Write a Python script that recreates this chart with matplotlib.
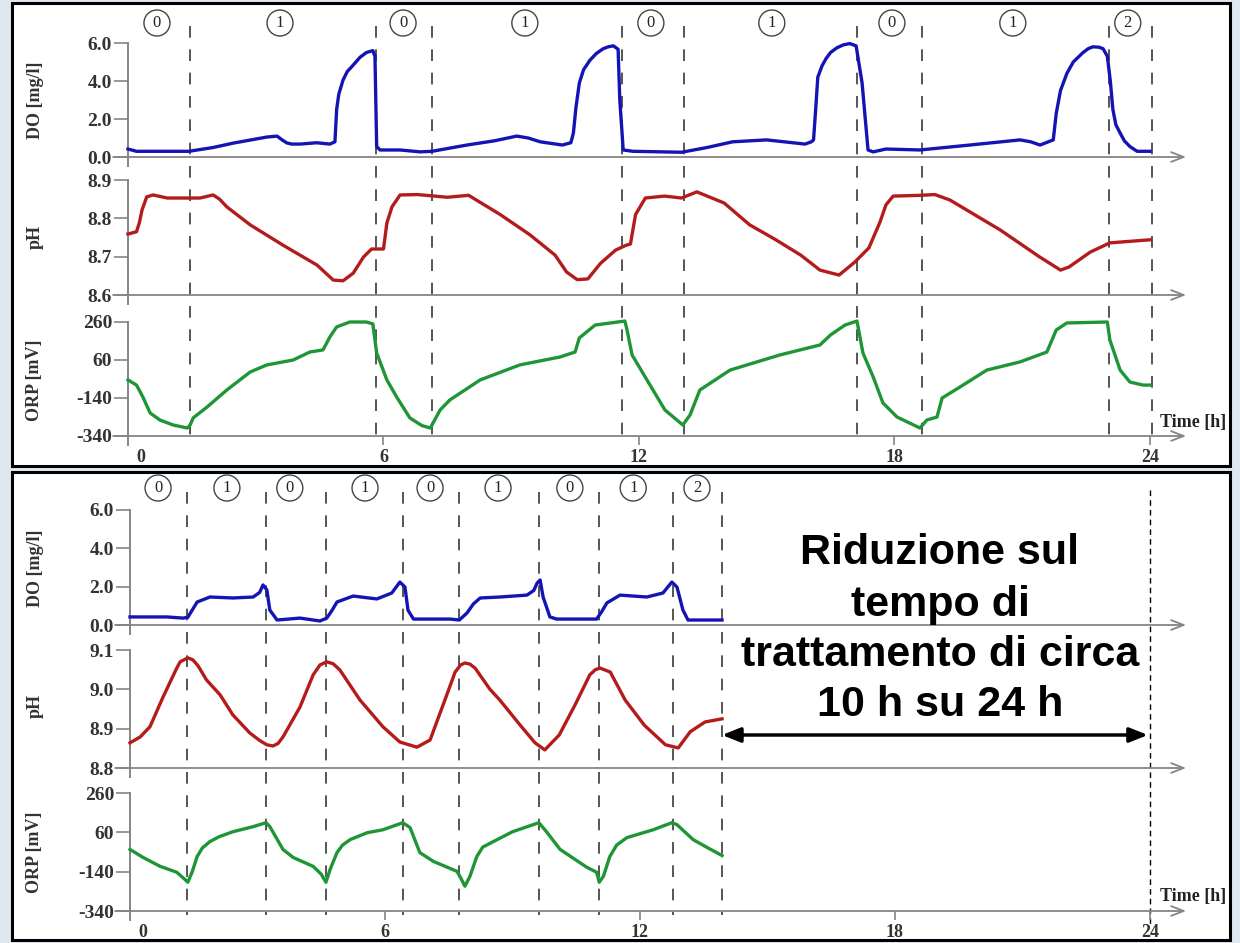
import matplotlib
matplotlib.use('Agg')
import matplotlib.pyplot as plt
from matplotlib.patches import Rectangle

# ---- data (hours, values) ----
# upper run: 24 h cycle
do_top_t = [0.0, 0.2, 1.43, 2.0, 2.47, 3.26, 3.5, 3.62, 3.73, 3.85, 4.04, 4.43, 4.74, 4.86, 4.9, 4.95, 5.05, 5.15,
            5.29, 5.45, 5.6, 5.75, 5.8, 5.84, 5.92,
            6.39, 6.86, 7.14, 7.96, 8.6, 9.13, 9.4, 9.68, 10.2, 10.4, 10.46, 10.52, 10.6, 10.7, 10.85, 11.0, 11.16,
            11.28, 11.4, 11.51, 11.55, 11.63, 11.86,
            13.0, 13.6, 14.2, 15.0, 15.9, 16.05, 16.1, 16.15, 16.2, 16.3, 16.4, 16.5, 16.65, 16.8, 16.95, 17.1,
            17.24, 17.38, 17.5, 17.8,
            18.6, 19.77, 20.95, 21.2, 21.42, 21.73, 21.8, 21.9, 22.05, 22.2, 22.43, 22.55, 22.66, 22.8, 22.9, 23.0,
            23.07, 23.13, 23.2, 23.3, 23.4, 23.53, 23.7, 24.0]
do_top_v = [0.42, 0.3, 0.3, 0.5, 0.73, 1.05, 1.1, 0.9, 0.74, 0.68, 0.68, 0.75, 0.68, 0.8, 2.5, 3.3, 4.05, 4.5,
            4.84, 5.25, 5.5, 5.6, 5.3, 0.55, 0.37,
            0.37, 0.27, 0.3, 0.63, 0.85, 1.1, 1.0, 0.8, 0.63, 0.75, 1.26, 2.6, 3.9, 4.6, 5.1, 5.45, 5.7,
            5.8, 5.85, 5.67, 3.0, 0.37, 0.3,
            0.25, 0.5, 0.8, 0.9, 0.68, 0.8, 0.9, 2.5, 4.2, 4.8, 5.2, 5.5, 5.75, 5.9, 5.97, 5.85,
            3.9, 0.37, 0.27, 0.42,
            0.37, 0.63, 0.9, 0.8, 0.63, 0.9, 2.3, 3.5, 4.4, 5.0, 5.5, 5.7, 5.8, 5.78, 5.7, 5.3,
            4.0, 2.5, 1.7, 1.26, 0.85, 0.55, 0.3, 0.3]

ph_top_t = [0, 0.2, 0.27, 0.33, 0.44, 0.59, 0.92, 1.69, 2.0, 2.15, 2.32, 2.87, 3.64, 4.44, 4.82, 5.05, 5.29, 5.53,
            5.72, 6.0, 6.08, 6.2, 6.39, 6.8, 7.5, 8.0, 8.74, 9.44, 10.03, 10.3, 10.55, 10.8, 11.1, 11.45, 11.7,
            11.8, 11.92, 12.15, 12.6, 13.0, 13.36, 14.0, 14.6, 15.2, 15.8, 16.25, 16.7, 17.07, 17.4, 17.66, 17.8,
            17.97, 18.6, 18.95, 19.3, 20.48, 21.4, 21.9, 22.1, 22.6, 23.06, 24.0]
ph_top_v = [8.759, 8.765, 8.79, 8.822, 8.856, 8.861, 8.853, 8.853, 8.861, 8.85, 8.83, 8.783, 8.73, 8.678, 8.639,
            8.637, 8.657, 8.699, 8.72, 8.72, 8.788, 8.83, 8.861, 8.862, 8.855, 8.86, 8.81, 8.757, 8.704, 8.66,
            8.64, 8.642, 8.683, 8.717, 8.73, 8.733, 8.81, 8.853, 8.858, 8.853, 8.869, 8.84, 8.783, 8.745, 8.704,
            8.665, 8.652, 8.686, 8.723, 8.79, 8.835, 8.858, 8.86, 8.862, 8.848, 8.77, 8.70, 8.665, 8.673, 8.712,
            8.736, 8.744]

orp_top_t = [0, 0.2, 0.35, 0.52, 0.75, 1.06, 1.39, 1.46, 1.53, 1.86, 2.32, 2.87, 3.26, 3.88, 4.27, 4.58, 4.74, 4.9,
             5.21, 5.6, 5.75, 5.84, 6.08, 6.31, 6.62, 6.9, 7.1, 7.33, 7.56, 8.27, 9.2, 10.15, 10.5, 10.6, 10.97,
             11.67, 11.72, 11.84, 12.26, 12.61, 13.03, 13.2, 13.43, 14.14, 15.3, 16.25, 16.5, 16.84, 17.12, 17.26,
             17.5, 17.73, 18.06, 18.6, 18.76, 19.0, 19.12, 19.54, 20.17, 20.95, 21.58, 21.8, 22.05, 23.0, 23.06,
             23.3, 23.53, 23.84, 24.0]
orp_top_v = [-45, -72, -135, -219, -256, -282, -298, -282, -245, -187, -98, -3, 34, 60, 102, 113, 181, 234,
             260, 260, 250, 97, -45, -135, -245, -285, -298, -203, -150, -45, 34, 76, 102, 176, 244,
             265, 218, 86, -72, -203, -282, -229, -98, 7, 86, 139, 192, 244, 265, 97,
             -29, -166, -240, -298, -256, -240, -140, -82, 7, 50, 102, 218, 255, 260, 165,
             7, -56, -72, -72]

# lower run: shortened cycle
do_bot_t = [0, 0.87, 1.25, 1.36, 1.47, 1.58, 1.88, 2.42, 2.9, 3.05, 3.13, 3.22, 3.29, 3.46, 4.0, 4.47, 4.63, 4.75,
            4.87, 5.25, 5.81, 6.16, 6.35, 6.47, 6.54, 6.67, 7.53, 7.75, 7.93, 8.08, 8.24, 8.7, 9.34, 9.5, 9.58, 9.65,
            9.72, 9.88, 10.04, 10.98, 11.1, 11.22, 11.53, 12.16, 12.54, 12.75, 12.87, 13.01, 13.13, 13.93]
do_bot_v = [0.42, 0.42, 0.36, 0.4, 0.8, 1.2, 1.46, 1.41, 1.46, 1.7, 2.09, 1.83, 0.78, 0.26, 0.36, 0.21, 0.36, 0.75,
            1.2, 1.51, 1.36, 1.67, 2.24, 1.98, 0.78, 0.31, 0.31, 0.26, 0.63, 1.1, 1.41, 1.46, 1.56, 1.8, 2.19, 2.35,
            1.46, 0.42, 0.31, 0.31, 0.7, 1.15, 1.56, 1.46, 1.67, 2.24, 1.98, 0.78, 0.26, 0.26]

ph_bot_t = [0, 0.24, 0.47, 0.78, 1.1, 1.18, 1.36, 1.48, 1.6, 1.8, 2.12, 2.42, 2.82, 3.05, 3.22, 3.36, 3.48, 3.6, 4.0,
            4.31, 4.47, 4.63, 4.78, 4.94, 5.41, 5.95, 6.35, 6.75, 7.06, 7.41, 7.65, 7.78, 7.88, 8.0, 8.12, 8.47, 8.7,
            9.18, 9.53, 9.76, 10.1, 10.47, 10.82, 10.95, 11.06, 11.3, 11.65, 12.1, 12.6, 12.9, 13.18, 13.53, 13.93]
ph_bot_v = [8.864, 8.879, 8.905, 8.981, 9.054, 9.07, 9.08, 9.075, 9.06, 9.024, 8.986, 8.935, 8.889, 8.87, 8.859,
            8.856, 8.862, 8.879, 8.955, 9.037, 9.062, 9.07, 9.065, 9.049, 8.973, 8.905, 8.866, 8.853, 8.871, 8.973,
            9.044, 9.062, 9.067, 9.064, 9.054, 9.0, 8.973, 8.909, 8.864, 8.846, 8.884, 8.96, 9.037, 9.05, 9.054,
            9.044, 8.973, 8.909, 8.859, 8.851, 8.892, 8.917, 8.925]

orp_bot_t = [0, 0.31, 0.71, 1.1, 1.29, 1.36, 1.46, 1.58, 1.7, 1.88, 2.1, 2.42, 2.9, 3.2, 3.29, 3.6, 3.84, 4.31, 4.5,
             4.61, 4.71, 4.87, 5.0, 5.18, 5.58, 5.95, 6.42, 6.59, 6.82, 7.14, 7.69, 7.76, 7.88, 8.0, 8.16, 8.3, 8.55,
             9.0, 9.62, 9.8, 10.12, 10.75, 10.98, 11.04, 11.14, 11.29, 11.45, 11.69, 12.31, 12.75, 12.87, 13.25,
             13.58, 13.93]
orp_bot_v = [-27, -68, -113, -143, -179, -194, -143, -63, -20, 13, 38, 63, 89, 109, 89, -27, -68, -113, -153,
             -194, -128, -43, -5, 23, 58, 73, 109, 84, -43, -88, -138, -163, -214, -163, -63, -15, 13,
             63, 109, 63, -27, -118, -143, -194, -163, -63, -5, 33, 73, 109, 99, 23, -17, -58]

# phase boundaries and phase labels
top_bounds = [1.45, 5.82, 7.15, 11.6, 13.05, 17.13, 18.65, 23.05, 24.05]
top_lab_x = [0.68, 3.57, 6.46, 9.32, 12.28, 15.12, 17.94, 20.78, 23.48]
bot_bounds = [1.34, 3.2, 4.61, 6.42, 7.74, 9.62, 11.04, 12.78, 13.93]
bot_lab_x = [0.66, 2.28, 3.76, 5.53, 7.06, 8.66, 10.35, 11.84, 13.34]
phases = ['0', '1', '0', '1', '0', '1', '0', '1', '2']

x_ticks = [6, 12, 18, 24]
do_ticks = [0, 2, 4, 6]
ph_top_ticks = [8.6, 8.7, 8.8, 8.9]
ph_bot_ticks = [8.8, 8.9, 9.0, 9.1]
orp_ticks = [-340, -140, 60, 260]

# ---- styling ----
W, H = 1240, 943
SERIF = 'Liberation Serif'
AXC = '#858585'
TXC = '#333333'
XL = (-0.35, 24.9)

fig = plt.figure(figsize=(12.4, 9.43), dpi=100)
fig.patch.set_facecolor('#dfe7f1')


def fx(px):
    return px / W


def fy(py):
    return 1 - py / H


for (x0, y0, x1, y1) in [(12, 3, 1230, 466), (12, 472, 1230, 940)]:
    fig.add_artist(Rectangle((fx(x0), fy(y1)), (x1 - x0) / W, (y1 - y0) / H, transform=fig.transFigure,
                             facecolor='white', edgecolor='black', lw=2.2, zorder=-5))


def overlay(left, right, ptop, pbot, bounds, lab_x, lab_y, dtop, dbot):
    ov = fig.add_axes([fx(left), fy(pbot), (right - left) / W, (pbot - ptop) / H])
    ov.set_xlim(*XL)
    ov.set_ylim(pbot, ptop)
    ov.axis('off')
    for b in bounds:
        ov.plot([b, b], [dtop, dbot], ls=(0, (6, 6)), color='#555555', lw=1.4)
    for x, l in zip(lab_x, phases):
        ov.text(x, lab_y, l, ha='center', va='center', fontsize=12, family=SERIF, color='#222',
                bbox=dict(boxstyle='circle,pad=0.3', fc='white', ec='#444', lw=1.0))
    return ov


def sub_ax(left, right, ytop, ybot, vtop, vbot, ticks, fmt, color, t, v, bottom=False):
    pad_t, pad_b = 4, 9
    upp = (vtop - vbot) / (ybot - ytop)
    ax = fig.add_axes([fx(left), fy(ybot + pad_b), (right - left) / W, (ybot - ytop + pad_t + pad_b) / H])
    ax.set_xlim(*XL)
    ax.set_ylim(vbot - pad_b * upp, vtop + pad_t * upp)
    ax.patch.set_alpha(0)
    for s in ['top', 'right', 'bottom']:
        ax.spines[s].set_visible(False)
    ax.spines['left'].set_position(('data', 0))
    ax.spines['left'].set_bounds(vbot - pad_b * upp, vtop)
    ax.spines['left'].set_color(AXC)
    ax.spines['left'].set_linewidth(1.4)
    ax.set_yticks(ticks)
    ax.set_yticklabels([fmt.format(x) for x in ticks], family=SERIF, fontweight='bold')
    ax.tick_params(axis='y', length=10, width=1.2, color=AXC, pad=1.5, labelsize=14, labelcolor=TXC)
    ax.annotate('', xy=(24.85, vbot), xytext=(XL[0], vbot),
                arrowprops=dict(arrowstyle='->,head_length=0.9,head_width=0.35', color=AXC, lw=1.3,
                                shrinkA=0, shrinkB=0))
    ax.plot(t, v, color=color, lw=2.4, solid_joinstyle='round', zorder=3)
    if bottom:
        ax.set_xticks([0.3] + x_ticks)
        ax.set_xticklabels(['0'] + [str(x) for x in x_ticks], family=SERIF, fontweight='bold')
        ax.tick_params(axis='x', direction='in', length=6.5, width=1.2, color=AXC, pad=3,
                       labelsize=13, labelcolor=TXC)
        ax.xaxis.get_major_ticks()[0].tick1line.set_visible(False)
    else:
        ax.set_xticks([])
    return ax


BLUE, RED, GREEN = '#1414b4', '#b41c1c', '#1f9636'

# upper panel
lt, rt = 128 + XL[0] * 42.58, 128 + XL[1] * 42.58
overlay(lt, rt, 3, 466, top_bounds, top_lab_x, 23, 26, 444)
sub_ax(lt, rt, 43, 157, 6.0, 0.0, do_ticks, '{:.1f}', BLUE, do_top_t, do_top_v)
sub_ax(lt, rt, 180, 295, 8.9, 8.6, ph_top_ticks, '{:.1f}', RED, ph_top_t, ph_top_v)
sub_ax(lt, rt, 322, 436, 260, -340, orp_ticks, '{:d}', GREEN, orp_top_t, orp_top_v, bottom=True)

# lower panel
lb, rb = 130 + XL[0] * 42.5, 130 + XL[1] * 42.5
ov = overlay(lb, rb, 472, 940, bot_bounds, bot_lab_x, 488, 492, 915)
ov.plot([24, 24], [490, 925], ls=(0, (4, 3)), color='black', lw=1.0)
ov.annotate('', xy=(23.95, 735), xytext=(bot_bounds[-1], 735),
            arrowprops=dict(arrowstyle='<|-|>,head_length=0.55,head_width=0.22', mutation_scale=20,
                            color='black', lw=2.5, shrinkA=0, shrinkB=0))
sub_ax(lb, rb, 510, 625, 6.0, 0.0, do_ticks, '{:.1f}', BLUE, do_bot_t, do_bot_v)
sub_ax(lb, rb, 650, 768, 9.1, 8.8, ph_bot_ticks, '{:.1f}', RED, ph_bot_t, ph_bot_v)
sub_ax(lb, rb, 793, 911, 260, -340, orp_ticks, '{:d}', GREEN, orp_bot_t, orp_bot_v, bottom=True)

# axis titles
for yc, lab in [(100, 'DO [mg/l]'), (237, 'pH'), (380, 'ORP [mV]'),
                (568, 'DO [mg/l]'), (706, 'pH'), (852, 'ORP [mV]')]:
    fig.text(fx(35), fy(yc), lab, rotation=90, ha='center', va='center', fontsize=13,
             family=SERIF, fontweight='bold', color=TXC)
for yc in [423, 897]:
    fig.text(fx(1193), fy(yc), 'Time [h]', ha='center', va='center', fontsize=13,
             family=SERIF, fontweight='bold', color='#222')

# annotation text
for yc, line in [(553, 'Riduzione sul'), (605, 'tempo di'), (655, 'trattamento di circa'), (705, '10 h su 24 h')]:
    fig.text(fx(940), fy(yc), line, ha='center', va='center', fontsize=31,
             family='Liberation Sans', fontweight='bold', color='black')

fig.savefig('out.png', dpi=100, facecolor=fig.get_facecolor())
